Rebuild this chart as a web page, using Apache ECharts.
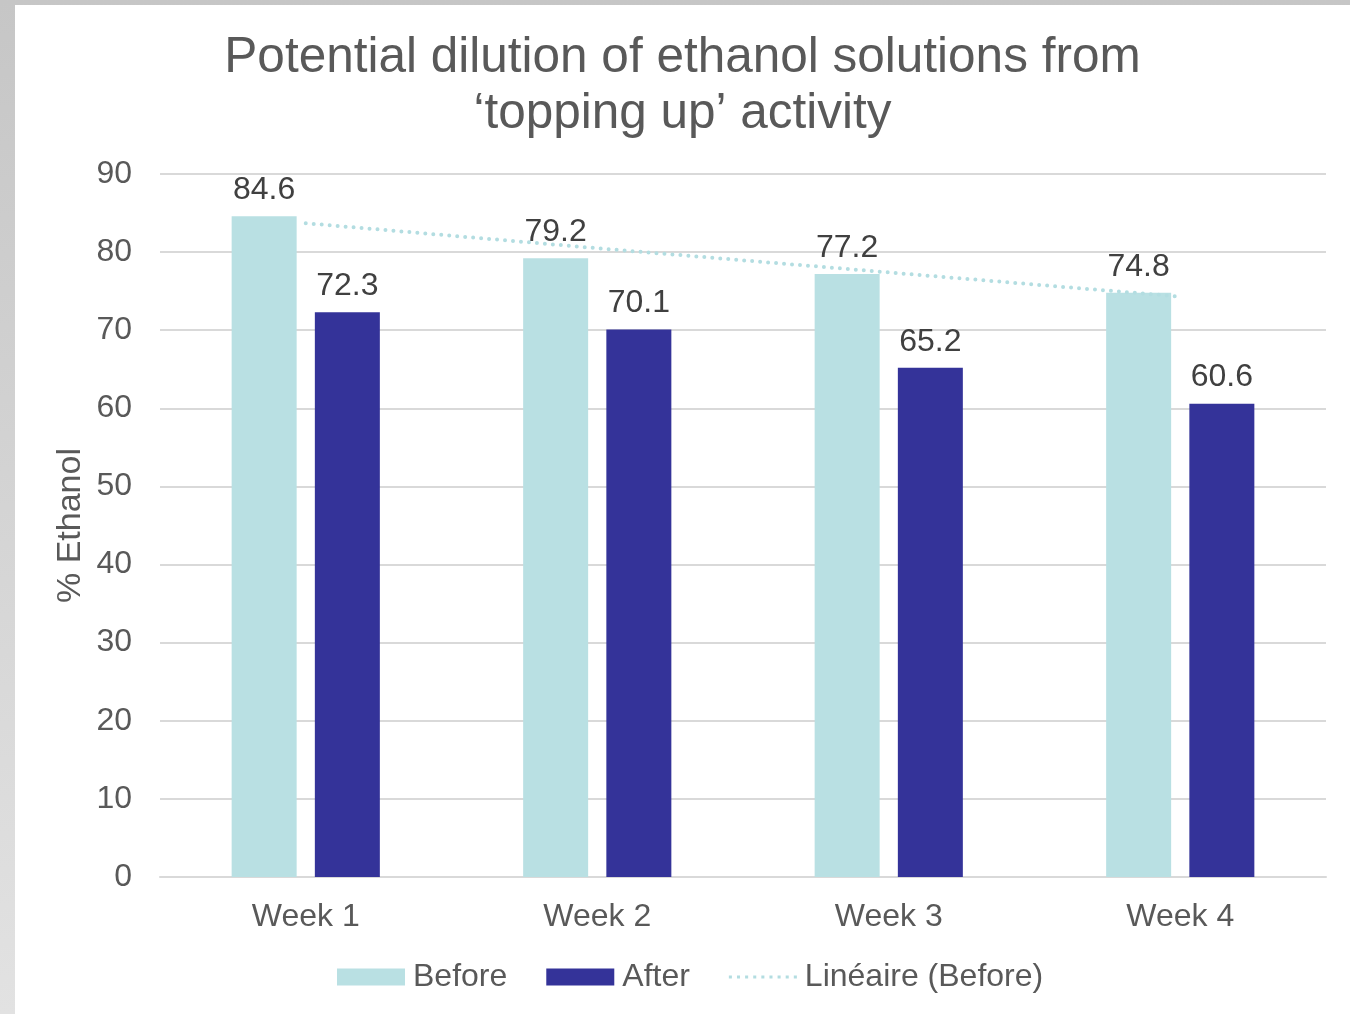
<!DOCTYPE html>
<html>
<head>
<meta charset="utf-8">
<script src="https://cdn.jsdelivr.net/npm/echarts@6/dist/echarts.min.js"></script>
<style>
  html, body { margin: 0; padding: 0; }
  #frame {
    position: relative; width: 1350px; height: 1014px;
    background: linear-gradient(to bottom, #c6c6c6, #e2e2e2);
  }
  #chart {
    position: absolute; left: 15px; top: 5px;
    width: 1335px; height: 1009px; background: #ffffff;
  }
</style>
</head>
<body>
<div id="frame"><div id="chart"></div></div>
<script>
// chart data
var weeks = ["Week 1", "Week 2", "Week 3", "Week 4"];
var before = [84.6, 79.2, 77.2, 74.8];
var after = [72.3, 70.1, 65.2, 60.6];
// trend line
var trendBefore = [83.7, 80.5, 77.4, 74.3];

var font = "'Liberation Sans', Arial, sans-serif";
var chart = echarts.init(document.getElementById("chart"));

// dotted legend icon for the trend line
var dotPath = "path://";
for (var i = 0; i < 9; i++) {
  dotPath += "M" + (i * 8) + ",0h3v3h-3z ";
}

var option = {
  animation: false,
  textStyle: { fontFamily: font },
  title: {
    text: "Potential dilution of ethanol solutions from\n\u2018topping up\u2019 activity",
    left: "center",
    top: 20,
    textStyle: {
      fontFamily: font,
      fontSize: 49.5,
      fontWeight: "normal",
      color: "#595959",
      lineHeight: 56
    }
  },
  grid: { left: 145, right: 24, top: 169, bottom: 137 },
  legend: {
    left: 317,
    top: 951,
    itemWidth: 68,
    itemHeight: 17,
    itemGap: 39,
    icon: "rect",
    textStyle: { fontFamily: font, fontSize: 32, color: "#595959", padding: [0, 0, 0, 3] },
    data: [
      { name: "Before" },
      { name: "After" },
      { name: "Lin\u00e9aire (Before)", icon: dotPath, itemStyle: { color: "#b3dde1" } }
    ]
  },
  xAxis: {
    type: "category",
    data: weeks,
    axisLine: { lineStyle: { color: "#d9d9d9", width: 2 } },
    axisTick: { show: false },
    axisLabel: { fontSize: 32, color: "#595959", margin: 24 }
  },
  yAxis: {
    type: "value",
    min: 0,
    max: 90,
    interval: 10,
    name: "% Ethanol",
    nameLocation: "middle",
    nameGap: 72,
    nameMoveOverlap: false,
    nameTextStyle: { fontSize: 34, color: "#595959" },
    axisLine: { show: false },
    axisTick: { show: false },
    axisLabel: { fontSize: 32, color: "#595959", margin: 28 },
    splitLine: { lineStyle: { color: "#d9d9d9", width: 2 } }
  },
  series: [
    {
      name: "Before",
      type: "bar",
      data: before,
      barWidth: 65,
      barGap: "28%",
      itemStyle: { color: "#b9e0e3" },
      label: { show: true, position: "top", distance: 10, fontSize: 32, color: "#404040" }
    },
    {
      name: "After",
      type: "bar",
      data: after,
      barWidth: 65,
      itemStyle: { color: "#343399" },
      label: { show: true, position: "top", distance: 10, fontSize: 32, color: "#404040" }
    },
    {
      name: "Lin\u00e9aire (Before)",
      type: "line",
      data: trendBefore,
      symbol: "none",
      z: 5,
      lineStyle: { type: [0, 8], width: 4, color: "#b3dde1", cap: "round" },
      itemStyle: { color: "#b3dde1" }
    }
  ]
};
chart.setOption(option);
</script>
</body>
</html>
